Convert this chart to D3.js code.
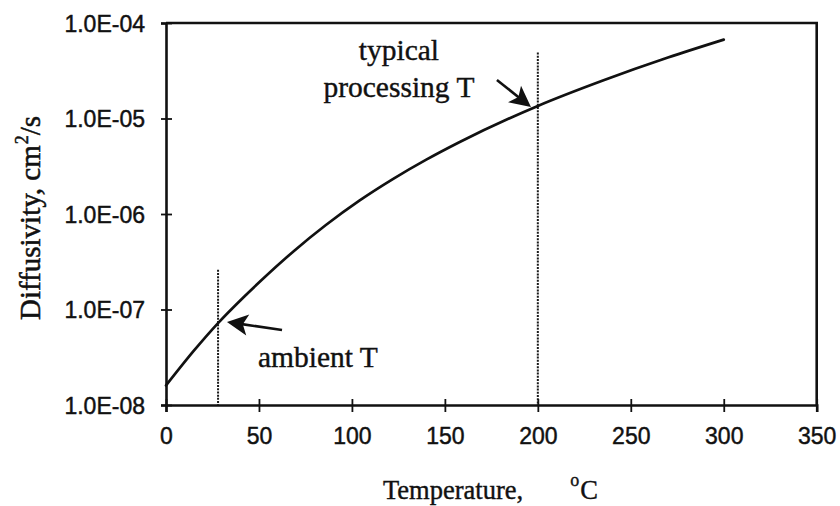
<!DOCTYPE html>
<html>
<head>
<meta charset="utf-8">
<script src="https://cdn.jsdelivr.net/npm/d3@7/dist/d3.min.js"></script>
<style>
  html, body { margin: 0; padding: 0; background: #fff; }
  svg { display: block; }
</style>
</head>
<body>
<svg id="chart" width="840" height="506"></svg>
<script>
// Diffusivity versus temperature (log scale)
const temperatures = [0, 15, 28, 42, 51, 69, 86, 104, 122, 140, 158, 200, 235, 270, 300];
const diffusivity = [1.6e-8, 3.7e-8, 7.2e-8, 1.36e-7, 2.0e-7, 4.13e-7, 7.67e-7, 1.38e-6, 2.32e-6, 3.71e-6, 5.68e-6, 1.355e-5, 2.5e-5, 4.35e-5, 6.7e-5];

const xTickValues = [0, 50, 100, 150, 200, 250, 300, 350];
const yTickValues = [1e-8, 1e-7, 1e-6, 1e-5, 1e-4];
const yTickLabels = ["1.0E-08", "1.0E-07", "1.0E-06", "1.0E-05", "1.0E-04"];

// reference temperatures (dotted verticals) and how high each line reaches
const markerTemps = [28, 200];
const markerTops = [2.6e-7, 4.9e-5];

// annotation arrows: tail and tip in data units
const ambientArrow = { tail: [62.4, 6.1e-8], tip: [32.8, 7.4e-8] };
const processArrow = { tail: [178.0, 2.53e-5], tip: [196.3, 1.32e-5] };

const svg = d3.select("#chart");
const margin = { left: 166, right: 23.3, top: 23, bottom: 101 };
const W = 840, H = 506;

const x = d3.scaleLinear().domain([0, 350]).range([margin.left, W - margin.right]);
const y = d3.scaleLog().domain([1e-8, 1e-4]).range([H - margin.bottom, margin.top]);

const ink = "#111";
const axisStroke = 2.6;
const sans = "'Liberation Sans', Arial, sans-serif";
const serif = "'Liberation Serif', 'Times New Roman', serif";

// plot frame (top and right sides)
svg.append("path")
  .attr("d", `M${x(0)},${y(1e-4)}H${x(350)}V${y(1e-8)}`)
  .attr("fill", "none").attr("stroke", ink).attr("stroke-width", axisStroke);

// x axis
const gx = svg.append("g").attr("transform", `translate(0,${y(1e-8)})`)
  .call(d3.axisBottom(x).tickValues(xTickValues).tickFormat(d3.format("d")).tickSizeOuter(0).tickSize(7));
gx.select(".domain").attr("stroke", ink).attr("stroke-width", axisStroke);
gx.selectAll(".tick line").attr("y1", -6).attr("y2", 7).attr("stroke", ink).attr("stroke-width", 1.8);
gx.selectAll(".tick text")
  .attr("font-family", sans).attr("font-size", 23)
  .attr("fill", ink).attr("stroke", ink).attr("stroke-width", 0.45)
  .attr("dy", 0).attr("y", 444 - y(1e-8));

// y axis
const gy = svg.append("g").attr("transform", `translate(${x(0)},0)`)
  .call(d3.axisLeft(y).tickValues(yTickValues).tickFormat((d, i) => yTickLabels[i]).tickSizeOuter(0).tickSize(5).tickPadding(16));
gy.select(".domain").attr("stroke", ink).attr("stroke-width", axisStroke);
gy.selectAll(".tick line").attr("x1", -5).attr("x2", 6).attr("stroke", ink).attr("stroke-width", 1.8);
gy.selectAll(".tick text")
  .attr("font-family", sans).attr("font-size", 23)
  .attr("fill", ink).attr("stroke", ink).attr("stroke-width", 0.45)
  .attr("dy", "0.36em");

// dotted reference lines
svg.selectAll("line.marker")
  .data(markerTemps)
  .join("line")
  .attr("class", "marker")
  .attr("x1", d => x(d)).attr("x2", d => x(d))
  .attr("y1", (d, i) => y(markerTops[i])).attr("y2", y(1e-8))
  .attr("stroke", "#1a1a1a").attr("stroke-width", 2)
  .attr("stroke-dasharray", "2,1.2");

// diffusivity curve
const line = d3.line()
  .x((d, i) => x(temperatures[i]))
  .y(d => y(d))
  .curve(d3.curveMonotoneX);
svg.append("path")
  .datum(diffusivity)
  .attr("d", line)
  .attr("fill", "none").attr("stroke", ink).attr("stroke-width", 2.7)
  .attr("stroke-linecap", "round");

// arrows with filled heads
function drawArrow(a) {
  const x0 = x(a.tail[0]), y0 = y(a.tail[1]);
  const x1 = x(a.tip[0]), y1 = y(a.tip[1]);
  const ang = Math.atan2(y1 - y0, x1 - x0);
  const c = Math.cos(ang), s = Math.sin(ang);
  const len = 21, half = 10.5;
  const bx = x1 - len * c, by = y1 - len * s;
  const nx = -s, ny = c;
  svg.append("line")
    .attr("x1", x0).attr("y1", y0)
    .attr("x2", bx + 6 * c).attr("y2", by + 6 * s)
    .attr("stroke", ink).attr("stroke-width", 2.6);
  svg.append("path")
    .attr("d", `M${x1},${y1}L${bx + half * nx},${by + half * ny}L${bx + 5 * c},${by + 5 * s}L${bx - half * nx},${by - half * ny}Z`)
    .attr("fill", ink);
  return [x0, y0];
}

function label(xp, yp, txt, anchor) {
  return svg.append("text")
    .attr("x", xp).attr("y", yp)
    .attr("text-anchor", anchor)
    .attr("font-family", serif).attr("font-size", 29.5)
    .attr("fill", ink).attr("stroke", ink).attr("stroke-width", 0.4)
    .text(txt);
}

const [ax, ay] = drawArrow(ambientArrow);
label(ax - 24, ay + 37, "ambient T", "start");

const [px, py] = drawArrow(processArrow);
label(px - 98, py - 20, "typical", "middle");
label(px - 98, py + 17, "processing T", "middle");

// axis titles
const xt = svg.append("text")
  .attr("x", 383).attr("y", 499)
  .attr("font-family", serif).attr("font-size", 26.5)
  .attr("fill", ink).attr("stroke", ink).attr("stroke-width", 0.4);
xt.append("tspan").text("Temperature,");
xt.append("tspan").attr("dx", 47).attr("dy", -13).attr("font-size", 18).text("o");
xt.append("tspan").attr("dx", 1).attr("dy", 13).text("C");

const yt = svg.append("text")
  .attr("transform", "rotate(-90)")
  .attr("x", -218).attr("y", 40)
  .attr("text-anchor", "middle")
  .attr("font-family", serif).attr("font-size", 29)
  .attr("fill", ink).attr("stroke", ink).attr("stroke-width", 0.5);
yt.append("tspan").text("Diffusivity, cm");
yt.append("tspan").attr("dx", 1).attr("dy", -12).attr("font-size", 18).text("2");
yt.append("tspan").attr("dy", 12).text("/s");
</script>
</body>
</html>
